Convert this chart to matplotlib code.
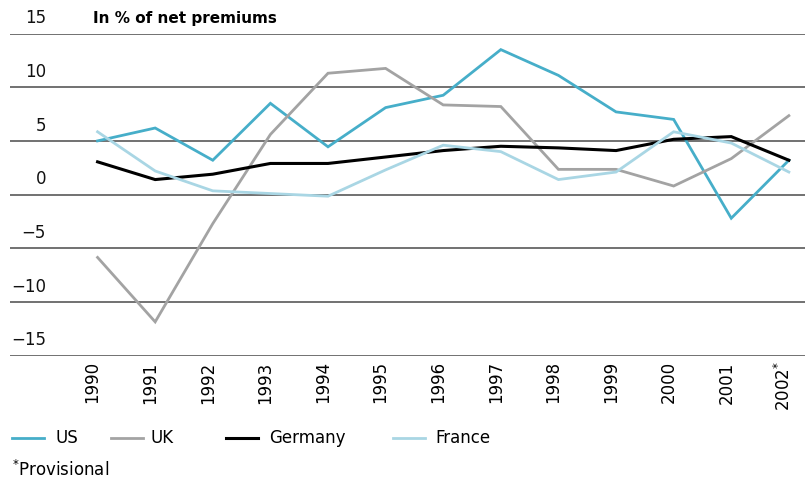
import matplotlib.pyplot as plt
import matplotlib.transforms as mtransforms
from matplotlib.lines import Line2D

plt.rcParams['font.family'] = ['DejaVu Sans']

years = list(range(1990, 2003))
year_labels = [str(y) for y in years[:-1]] + ['2002$^{*}$']
us = [5.0, 6.2, 3.2, 8.5, 4.45, 8.1, 9.25, 13.5, 11.1, 7.7, 7.0, -2.2, 3.2]
uk = [-5.85, -11.85, -2.7, 5.6, 11.3, 11.75, 8.35, 8.2, 2.35, 2.35, 0.8, 3.35, 7.35]
germany = [3.05, 1.4, 1.9, 2.9, 2.9, 3.5, 4.1, 4.5, 4.35, 4.1, 5.15, 5.4, 3.2]
france = [5.85, 2.2, 0.35, 0.1, -0.15, 2.3, 4.6, 4.0, 1.4, 2.1, 5.85, 4.8, 2.1]
yticks = [15, 10, 5, 0, -5, -10, -15]

series = [('US', us, '#46aec9', 2.0),
          ('UK', uk, '#a3a3a3', 2.0),
          ('Germany', germany, '#000000', 2.2),
          ('France', france, '#a9d6e4', 2.0)]

fig = plt.figure(figsize=(8.05, 4.82), dpi=100)
ax = fig.add_axes([10 / 805, 1 - 355.7 / 482, 795 / 805, (355.7 - 33.5) / 482])

for name, vals, col, lw in series:
    ax.plot(years, vals, color=col, lw=lw, solid_joinstyle='miter', zorder=3)

ax.set_xlim(1988.48, 2002.28)
ax.set_ylim(-15, 15)
for y in yticks:
    ax.axhline(y, color='#4a4a4a', lw=1.1, zorder=1)
    ax.annotate(str(y).replace('-', '\u2212'), xy=((46 - 10) / 795, y),
                xycoords=ax.get_yaxis_transform(), xytext=(0, 11), textcoords='offset points',
                ha='right', va='center', fontsize=12, color='#111111')
for s in ax.spines.values():
    s.set_visible(False)
ax.set_yticks([])
ax.set_xticks(years)
ax.set_xticklabels(year_labels, rotation=90, fontsize=12, va='top', ha='center')
ax.tick_params(axis='x', length=0, pad=4)
shift = mtransforms.ScaledTranslation(-5 / 100, 0, fig.dpi_scale_trans)
for lab in ax.get_xticklabels():
    lab.set_transform(lab.get_transform() + shift)

fig.text(93 / 805, 1 - 18 / 482, 'In % of net premiums', fontsize=11, fontweight='bold',
         ha='left', va='center')

# legend
leg_pos = [(12, 55), (111, 150), (226, 269), (393, 435)]
ly = 1 - 438 / 482
for (name, vals, col, lw), (x0, xt) in zip(series, leg_pos):
    fig.add_artist(Line2D([x0 / 805, (x0 + 32) / 805], [ly, ly], color=col, lw=lw,
                          transform=fig.transFigure))
    fig.text(xt / 805, ly, name, fontsize=12, ha='left', va='center')

fig.text(12 / 805, 1 - 470 / 482, '$^{*}$Provisional', fontsize=12, ha='left', va='center')

fig.savefig('out.png', dpi=100)
